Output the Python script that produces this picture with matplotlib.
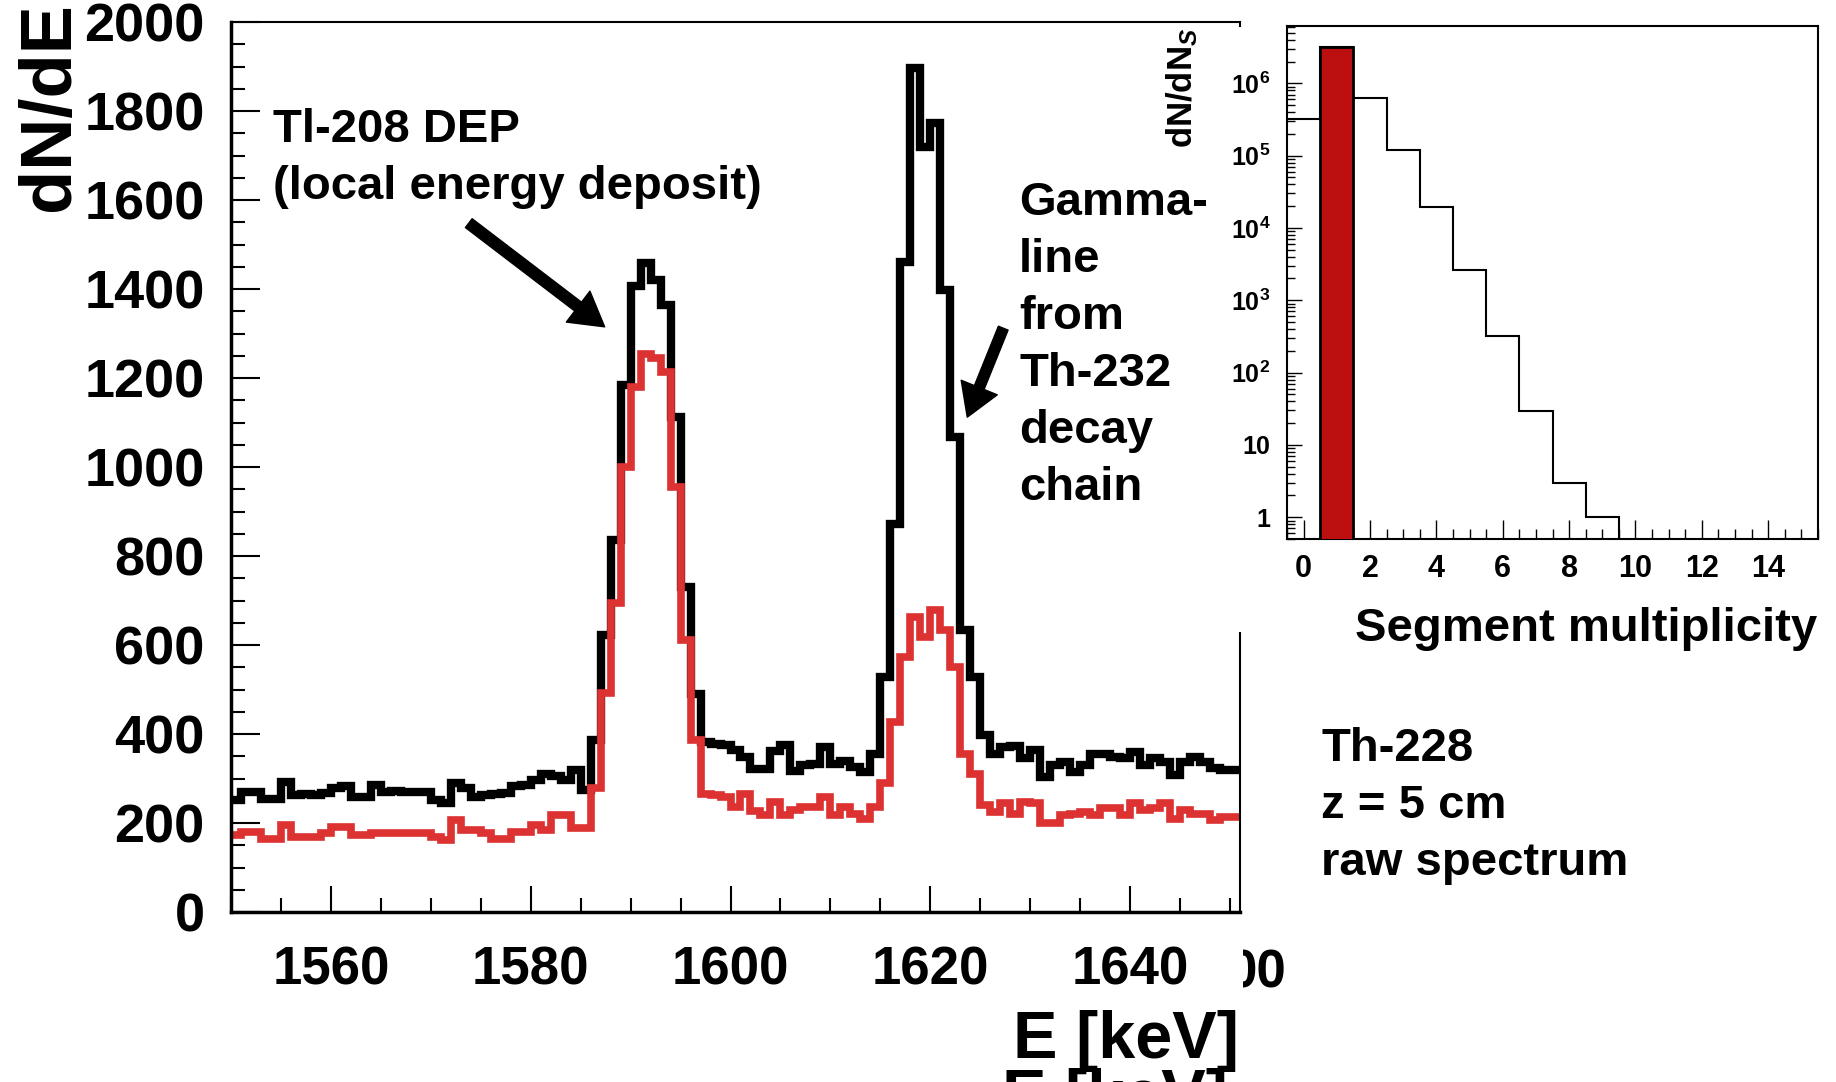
import numpy as np
import matplotlib
matplotlib.use("Agg")
import matplotlib.pyplot as plt
from matplotlib.ticker import MultipleLocator, FixedLocator, FuncFormatter, LogLocator, NullFormatter
from matplotlib.patches import Rectangle

plt.rcParams['font.family'] = ['Liberation Sans', 'DejaVu Sans']
plt.rcParams['font.weight'] = 'bold'
plt.rcParams['mathtext.fontset'] = 'custom'
plt.rcParams['mathtext.rm'] = 'Liberation Sans:bold'
plt.rcParams['mathtext.bf'] = 'Liberation Sans:bold'
plt.rcParams['mathtext.it'] = 'Liberation Sans:bold:italic'

W, H = 1836, 1082

# energy spectrum, 1 keV bins from 1550 keV
e_edges = np.arange(1550, 1652)
counts_raw = [252, 270, 270, 255, 255, 293, 263, 265, 263, 267,
              278, 283, 259, 259, 285, 270, 272, 270, 270, 270,
              252, 244, 289, 278, 259, 262, 265, 267, 283, 285,
              297, 310, 305, 297, 319, 275, 386, 622, 836, 1184,
              1406, 1459, 1420, 1364, 1113, 731, 491, 381, 378, 375,
              365, 349, 322, 322, 362, 376, 316, 330, 332, 371,
              333, 340, 326, 315, 356, 529, 871, 1461, 1896, 1720,
              1772, 1398, 1068, 634, 529, 398, 355, 370, 372, 345,
              364, 304, 330, 337, 315, 330, 356, 356, 349, 345,
              360, 330, 345, 337, 308, 337, 349, 337, 323, 319, 319]
counts_single = [173, 180, 180, 165, 165, 195, 169, 169, 169, 177,
                 190, 190, 173, 173, 178, 178, 177, 177, 177, 177,
                 169, 162, 207, 184, 184, 177, 165, 165, 180, 180,
                 195, 184, 218, 218, 188, 188, 278, 492, 694, 1000,
                 1180, 1255, 1244, 1214, 955, 611, 386, 265, 262, 258,
                 235, 265, 228, 218, 248, 218, 229, 236, 237, 259,
                 218, 237, 221, 210, 237, 290, 428, 574, 664, 619,
                 679, 634, 551, 356, 311, 240, 225, 246, 221, 248,
                 244, 199, 199, 218, 221, 225, 218, 233, 233, 218,
                 244, 229, 233, 244, 210, 229, 221, 221, 207, 214, 214]

# segment multiplicity (inset)
mult = np.arange(0, 16)
mult_counts = [3.25e5, 3.2e6, 6.35e5, 1.18e5, 1.96e4, 2.59e3, 321, 29.6, 3.0, 1.0,
               0, 0, 0, 0, 0, 0]
single_seg = 1

black = 'black'
red = '#dc3232'
dark_red = '#bc1010'


def fx(x):
    return x / W


def fy(y):
    return 1 - y / H


fig = plt.figure(figsize=(W / 100, H / 100), dpi=100)

# ---- main spectrum ----
ax = fig.add_axes([fx(231), fy(912), fx(1240) - fx(231), fy(22) - fy(912)])
ax.stairs(counts_raw, e_edges, baseline=None, color=black, lw=6, joinstyle='miter')
ax.stairs(counts_single, e_edges, baseline=None, color=red, lw=5.5, joinstyle='miter')
ax.set_xlim(1550, 1651)
ax.set_ylim(0, 2000)

ax.xaxis.set_major_locator(FixedLocator([1560, 1580, 1600, 1620, 1640]))
ax.xaxis.set_minor_locator(MultipleLocator(5))
ax.yaxis.set_major_locator(MultipleLocator(200))
ax.yaxis.set_minor_locator(MultipleLocator(50))
ax.tick_params(which='both', direction='in', width=1.5, top=False, right=False)
ax.tick_params(axis='y', which='major', length=21, labelsize=39, pad=19)
ax.tick_params(axis='y', which='minor', length=10)
ax.tick_params(axis='x', which='major', length=19, labelsize=38, pad=24)
ax.tick_params(axis='x', which='minor', length=10)
for s in ['left', 'bottom']:
    ax.spines[s].set_linewidth(2.5)
for s in ['top', 'right']:
    ax.spines[s].set_linewidth(1.5)

ax.annotate('', xy=(1587.4, 1315), xytext=(1573.8, 1548),
            arrowprops=dict(arrowstyle='simple,head_length=2.4,head_width=2.8,tail_width=0.8',
                            mutation_scale=10, color=black, shrinkA=0, shrinkB=0))
ax.annotate('', xy=(1623.7, 1112), xytext=(1627.3, 1312),
            arrowprops=dict(arrowstyle='simple,head_length=2.3,head_width=2.8,tail_width=0.75',
                            mutation_scale=10, color=black, shrinkA=0, shrinkB=0))

fig.text(fx(50), fy(2), 'dN/dE', rotation=90, ha='center', va='top', fontsize=52)
fig.text(fx(1239), fy(1058), 'E [keV]', ha='right', va='baseline', fontsize=48)
# remnants of the underlying slide
fig.text(fx(1228), fy(1068), 'E [keV]', ha='right', va='top', fontsize=48)
fig.text(fx(1287), fy(988), '00', ha='right', va='baseline', fontsize=38)
fig.add_artist(Rectangle((fx(1212), fy(1000)), fx(1243) - fx(1212), fy(940) - fy(1000),
                         transform=fig.transFigure, facecolor='white', edgecolor='none', zorder=4))

# white backing of the inset hides the right spine of the main frame
fig.add_artist(Rectangle((fx(1225), fy(632)), fx(W) - fx(1225), fy(27) - fy(632),
                         transform=fig.transFigure, facecolor='white', edgecolor='none', zorder=1))

# ---- inset: segment multiplicity ----
axi = fig.add_axes([fx(1287), fy(539), fx(1818) - fx(1287), fy(26) - fy(539)], zorder=2)
plot_counts = np.where(np.array(mult_counts) > 0, mult_counts, 1e-3)
axi.stairs(plot_counts, np.append(mult, 16) - 0.5, baseline=None, color=black, lw=1.5)
axi.bar(single_seg, mult_counts[single_seg], width=1.0, color=dark_red,
        edgecolor=black, lw=2, zorder=3)
axi.set_yscale('log')
axi.set_xlim(-0.5, 15.5)
axi.set_ylim(0.5, 6.2e6)


def log_label(v, pos):
    p = int(round(np.log10(v)))
    if p == 0:
        return '1'
    if p == 1:
        return '10'
    return '$10^{%d}$' % p


axi.yaxis.set_major_locator(LogLocator(base=10, numticks=10))
axi.yaxis.set_minor_locator(LogLocator(base=10, subs=np.arange(2, 10), numticks=20))
axi.yaxis.set_major_formatter(FuncFormatter(log_label))
axi.yaxis.set_minor_formatter(NullFormatter())
axi.xaxis.set_major_locator(MultipleLocator(2))
axi.xaxis.set_minor_locator(MultipleLocator(0.5))
axi.tick_params(which='both', direction='in', width=1.0, top=False, right=False)
axi.tick_params(axis='y', which='major', length=11, labelsize=18, pad=12)
axi.tick_params(axis='y', which='minor', length=6)
axi.tick_params(axis='x', which='major', length=14, labelsize=22, pad=11)
axi.tick_params(axis='x', which='minor', length=7)
for s in axi.spines.values():
    s.set_linewidth(1.5)

fig.text(fx(1182), fy(27), 'dN/dN$_{S}$', rotation=90, ha='center', va='top', fontsize=25)
fig.text(fx(1817), fy(641), 'Segment multiplicity', ha='right', va='baseline', fontsize=34)

# ---- annotations ----
fig.text(fx(273), fy(108), 'Tl-208 DEP\n(local energy deposit)', ha='left', va='top',
         fontsize=34, linespacing=1.38)
fig.text(fx(1019), fy(181), 'Gamma-\nline\nfrom\nTh-232\ndecay\nchain', ha='left', va='top',
         fontsize=34, linespacing=1.38)
fig.text(fx(1321), fy(727), 'Th-228\nz = 5 cm\nraw spectrum', ha='left', va='top',
         fontsize=34, linespacing=1.38)

fig.savefig('out.png', dpi=100, facecolor='white')
